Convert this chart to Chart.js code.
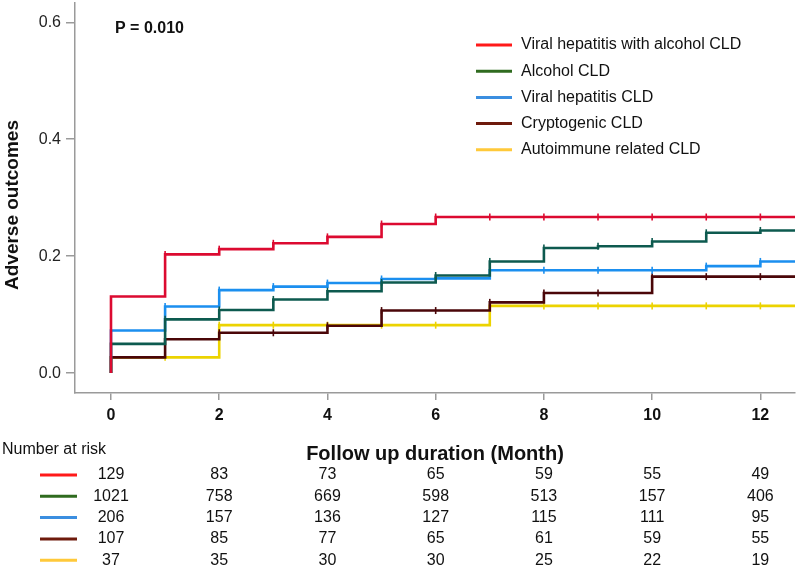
<!DOCTYPE html>
<html>
<head>
<meta charset="utf-8">
<script src="https://cdn.jsdelivr.net/npm/chart.js@4/dist/chart.umd.min.js"></script>
<style>
html, body { margin: 0; padding: 0; background: #fff; }
#wrap { width: 800px; height: 569px; }
</style>
</head>
<body>
<div id="wrap"><canvas id="km" width="800" height="569"></canvas></div>
<script>
// follow up months where the curves step / are censored
const months = [0, 1, 2, 3, 4, 5, 6, 7, 8, 9, 10, 11, 12];
const xEnd = 12.64;
const xTickValues = [0, 2, 4, 6, 8, 10, 12];
const yTickValues = [0, 0.2, 0.4, 0.6];

const seriesNames = ['Viral hepatitis with alcohol CLD', 'Alcohol CLD', 'Viral hepatitis CLD', 'Cryptogenic CLD', 'Autoimmune related CLD'];
const lineColors = ['#dc0a30', '#0d5a4f', '#1b8fef', '#4a0608', '#ecd300'];
const legendColors = ['#ff1a1a', '#2f6b1f', '#3b8ee0', '#6e1a0c', '#ffc93a'];

// cumulative adverse outcome after the step at each month
const viralAlcohol = [0.131, 0.203, 0.212, 0.222, 0.233, 0.255, 0.267, 0.267, 0.267, 0.267, 0.267, 0.267, 0.267];
const alcohol      = [0.050, 0.092, 0.108, 0.126, 0.140, 0.155, 0.167, 0.191, 0.214, 0.217, 0.225, 0.240, 0.244];
const viral        = [0.073, 0.114, 0.142, 0.148, 0.154, 0.161, 0.162, 0.176, 0.176, 0.176, 0.176, 0.183, 0.191];
const cryptogenic  = [0.027, 0.058, 0.069, 0.069, 0.081, 0.107, 0.107, 0.121, 0.137, 0.137, 0.165, 0.165, 0.165];
const autoimmune   = [0.027, 0.027, 0.082, 0.082, 0.082, 0.082, 0.082, 0.115, 0.115, 0.115, 0.115, 0.115, 0.115];

// number at risk table
const riskMonths = [0, 2, 4, 6, 8, 10, 12];
const riskViralAlcohol = [129, 83, 73, 65, 59, 55, 49];
const riskAlcohol = [1021, 758, 669, 598, 513, 157, 406];
const riskViral = [206, 157, 136, 127, 115, 111, 95];
const riskCryptogenic = [107, 85, 77, 65, 61, 59, 55];
const riskAutoimmune = [37, 35, 30, 30, 25, 22, 19];

const pValueText = 'P = 0.010';
const xTitle = 'Follow up duration (Month)';
const yTitle = 'Adverse outcomes';
const riskTitle = 'Number at risk';

const allSeries = [viralAlcohol, alcohol, viral, cryptogenic, autoimmune];
const allRisk = [riskViralAlcohol, riskAlcohol, riskViral, riskCryptogenic, riskAutoimmune];

const FONT = '"Liberation Sans", Arial, sans-serif';

function stepData(vals) {
    let pts = [{ x: months[0], y: 0 }];
    months.forEach((m, i) => pts.push({ x: m, y: vals[i] }));
    pts.push({ x: xEnd, y: vals[vals.length - 1] });
    return pts;
}

function markerSizes(vals) {
    // no censor mark on the start and on the extension to the axis end
    let r = [0, 0];
    for (let i = 1; i < vals.length; i++) r.push(3.5);
    r.push(0);
    return r;
}

const datasets = allSeries.map((vals, i) => ({
    label: seriesNames[i],
    data: stepData(vals),
    stepped: true,
    borderColor: lineColors[i],
    borderWidth: 2.6,
    pointStyle: 'line',
    rotation: 90,
    pointRadius: markerSizes(vals),
    pointBorderColor: lineColors[i],
    pointBorderWidth: 1.6,
    fill: false
}));

const extras = {
    id: 'extras',
    afterDraw(chart) {
        const ctx = chart.ctx;
        const xs = chart.scales.x;
        const area = chart.chartArea;
        ctx.save();
        ctx.fillStyle = '#111';

        // p value
        ctx.font = 'bold 16px ' + FONT;
        ctx.textAlign = 'left';
        ctx.textBaseline = 'middle';
        ctx.fillText(pValueText, 115, 29);

        // y title
        ctx.save();
        ctx.translate(13, 205);
        ctx.rotate(-Math.PI / 2);
        ctx.font = 'bold 19px ' + FONT;
        ctx.textAlign = 'center';
        ctx.fillText(yTitle, 0, 0);
        ctx.restore();

        // x title
        ctx.font = 'bold 20px ' + FONT;
        ctx.textAlign = 'center';
        ctx.fillText(xTitle, (area.left + area.right) / 2, 454);

        // legend
        ctx.font = '16px ' + FONT;
        ctx.textAlign = 'left';
        seriesNames.forEach((name, i) => {
            const y = 45 + i * 26.2;
            ctx.strokeStyle = legendColors[i];
            ctx.lineWidth = 3;
            ctx.beginPath();
            ctx.moveTo(476, y);
            ctx.lineTo(512, y);
            ctx.stroke();
            ctx.fillStyle = '#111';
            ctx.fillText(name, 521, y);
        });

        // number at risk
        ctx.fillText(riskTitle, 2, 450);
        allRisk.forEach((row, i) => {
            const y = 475 + i * 21.3;
            ctx.strokeStyle = legendColors[i];
            ctx.lineWidth = 3;
            ctx.beginPath();
            ctx.moveTo(40, y);
            ctx.lineTo(77, y);
            ctx.stroke();
            ctx.textAlign = 'center';
            row.forEach((n, j) => {
                ctx.fillText(String(n), xs.getPixelForValue(riskMonths[j]), y);
            });
            ctx.textAlign = 'left';
        });
        ctx.restore();
    }
};

const config = {
    type: 'line',
    data: { datasets: datasets },
    options: {
        responsive: false,
        animation: false,
        devicePixelRatio: 1,
        layout: { padding: { top: 3, right: 5, left: 0, bottom: 0 } },
        plugins: {
            legend: { display: false },
            tooltip: { enabled: false }
        },
        scales: {
            x: {
                type: 'linear',
                min: -0.665,
                max: xEnd,
                afterFit: s => { s.height = 176; s.paddingLeft = 0; s.paddingRight = 0; },
                afterBuildTicks: s => { s.ticks = xTickValues.map(v => ({ value: v })); },
                ticks: {
                    color: '#111',
                    padding: 6,
                    font: { family: FONT, size: 16, weight: 'bold' },
                    callback: v => String(v)
                },
                grid: { drawOnChartArea: false, tickLength: 7, color: '#9a9a9a', lineWidth: 1.5 },
                border: { color: '#9a9a9a', width: 1.5 }
            },
            y: {
                min: -0.034,
                max: 0.633,
                afterFit: s => { s.width = 75; s.paddingTop = 0; s.paddingBottom = 0; },
                afterBuildTicks: s => { s.ticks = yTickValues.map(v => ({ value: v })); },
                ticks: {
                    color: '#222',
                    padding: 5,
                    font: { family: FONT, size: 16 },
                    callback: v => Number(v).toFixed(1)
                },
                grid: { drawOnChartArea: false, tickLength: 9, color: '#9a9a9a', lineWidth: 1.5 },
                border: { color: '#9a9a9a', width: 1.5 }
            }
        }
    },
    plugins: [extras]
};

new Chart(document.getElementById('km'), config);
</script>
</body>
</html>
